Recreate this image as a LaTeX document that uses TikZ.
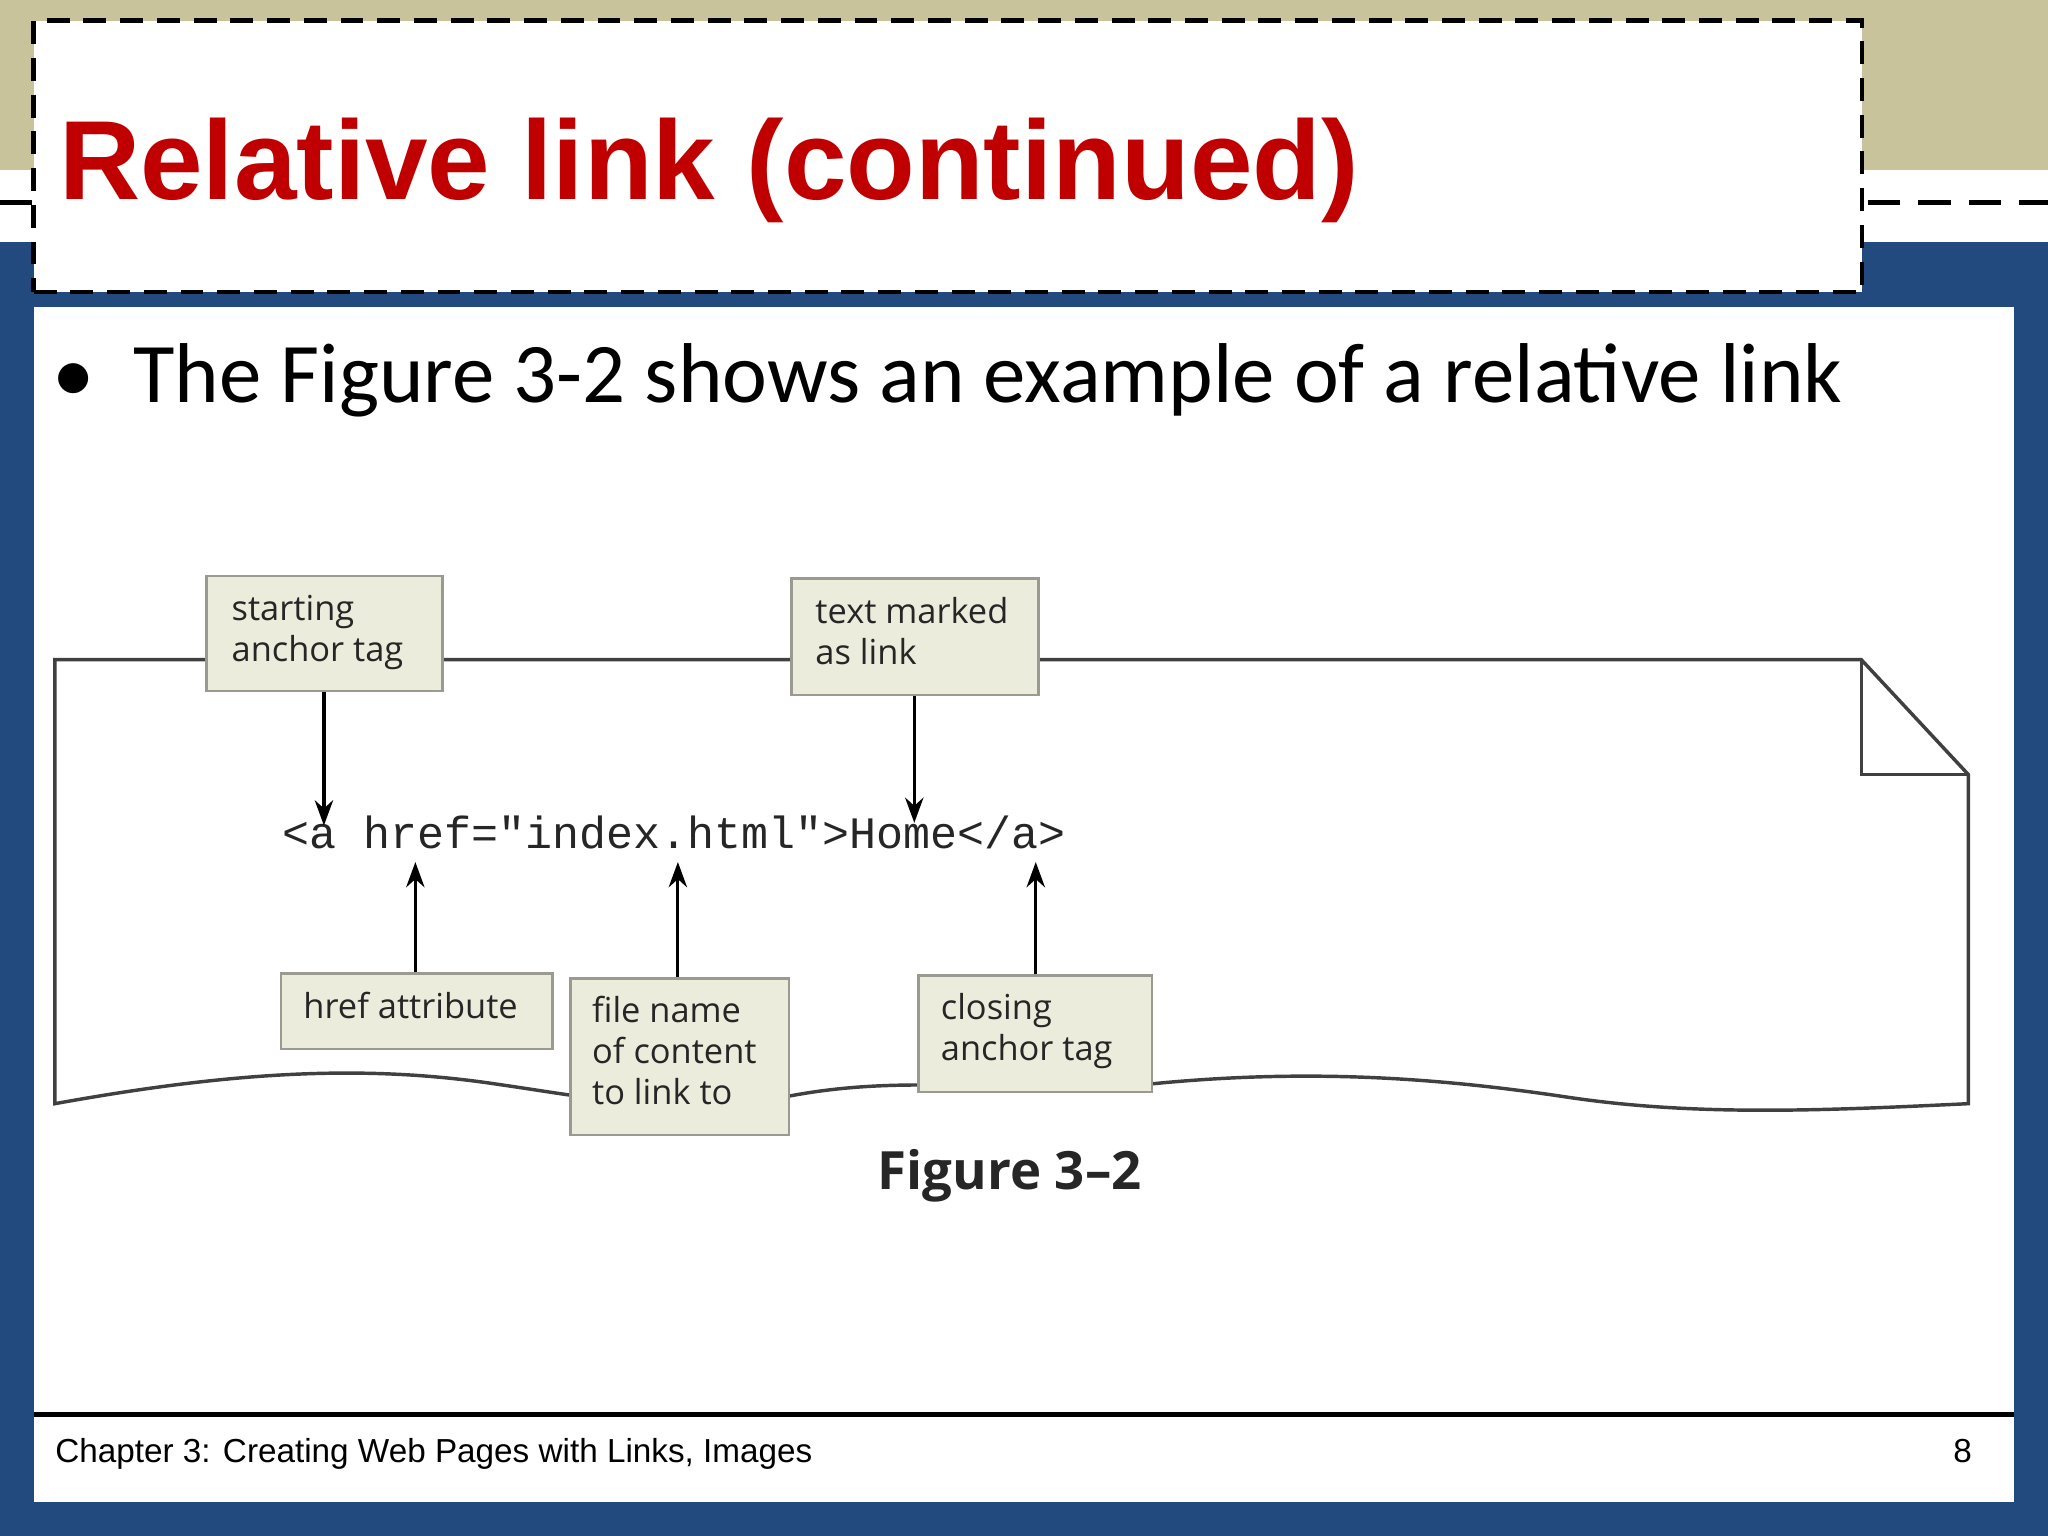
\documentclass[tikz,border=0pt]{standalone}
\usepackage{fontspec}
\setmainfont{Liberation Sans}
\newfontfamily\bodyf{Carlito}
\newfontfamily\boxf{Open Sans}
\newfontfamily\codef{Liberation Mono}
\definecolor{beige}{HTML}{C9C39B}
\definecolor{navy}{HTML}{224A7E}
\definecolor{titlered}{HTML}{C00000}
\definecolor{boxfill}{HTML}{ECECDC}
\definecolor{boxline}{HTML}{9A9A90}
\tikzset{lbl/.style={draw=boxline,fill=boxfill,line width=1.2pt,anchor=north west,inner sep=0pt},
 lbltext/.style={anchor=north west,align=left,inner sep=0pt,font=\boxf\fontsize{15}{18}\selectfont,text=black!85},
 arr/.style={-{Stealth[length=11pt,width=8pt]},line width=1.4pt}}
\usetikzlibrary{arrows.meta}
\begin{document}
\begin{tikzpicture}[x=0.02cm,y=-0.02cm]
\useasboundingbox (0,0) rectangle (1568,1176);
\fill[navy] (0,0) rectangle (1568,1176);
\fill[beige] (0,0) rectangle (1568,130);
\fill[white] (0,130) rectangle (1568,185);
\fill[white] (26,235) rectangle (1542,1150);
\draw[line width=2.5pt] (26,1083) -- (1542,1083);
\draw[line width=2pt,dash pattern=on 14pt off 8pt] (0,155) -- (1568,155);
\node[draw,line width=2pt,dash pattern=on 10pt off 6pt,fill=white,minimum width=28cm,minimum height=4.16cm,anchor=north west,inner sep=0pt] (tb) at (24,14) {};
\node[anchor=base west,inner sep=0pt,text=titlered,font=\bfseries\fontsize{49}{54}\selectfont] (title) at (45,153) {Relative link (continued)};
\node[anchor=base west,inner sep=0pt,font=\bodyf\fontsize{37}{42}\selectfont] (bullet) at (40,308) {\textbullet\hspace{0.45em}The Figure 3-2 shows an example of a relative link};
% paper
\draw[line width=1.5pt,black!75,fill=white] (42,505) -- (1425,505) -- (1507,593) -- (1507,845)
  .. controls (1400,850) and (1300,855) .. (1200,840)
  .. controls (1100,825) and (1000,818) .. (880,830)
  .. controls (780,840) and (700,820) .. (600,840)
  .. controls (520,855) and (450,840) .. (380,830)
  .. controls (280,815) and (180,820) .. (42,845) -- cycle;
\draw[line width=1.5pt,black!75] (1425,505) -- (1425,593) -- (1507,593);
\node[anchor=base west,inner sep=0pt,font=\codef\fontsize{19.6}{23}\selectfont,text=black!85] (code) at (216,650) {<a href="index.html">Home</a>};
\node[lbl,minimum width=3.62cm,minimum height=1.76cm] (b1) at (157,440) {};
\node[lbltext] at (177,455) {starting\\anchor tag};
\node[lbl,minimum width=3.78cm,minimum height=1.78cm] (b2) at (605,442) {};
\node[lbltext] at (624,457) {text marked\\as link};
\node[lbl,minimum width=4.16cm,minimum height=1.16cm] (b3) at (214,744) {};
\node[lbltext] at (232,759) {href attribute};
\node[lbl,minimum width=3.34cm,minimum height=2.4cm] (b4) at (436,748) {};
\node[lbltext] at (453,762) {file name\\of content\\to link to};
\node[lbl,minimum width=3.58cm,minimum height=1.78cm] (b5) at (702,746) {};
\node[lbltext] at (720,760) {closing\\anchor tag};
\coordinate (t1) at (248,632); \coordinate (t2) at (700,630);
\coordinate (t3) at (318,660); \coordinate (t4) at (519,660); \coordinate (t5) at (793,660);
\draw[arr] (b1.south -| t1) -- (t1);
\draw[arr] (b2.south -| t2) -- (t2);
\draw[arr] (b3.north -| t3) -- (t3);
\draw[arr] (b4.north -| t4) -- (t4);
\draw[arr] (b5.north -| t5) -- (t5);
\node[font=\boxf\bfseries\fontsize{23}{27}\selectfont,text=black!85] (fig) at (773,900) {Figure 3–2};
\node[anchor=base west,inner sep=0pt,font=\fontsize{14.5}{18}\selectfont] (foot) at (42,1120) {Chapter 3: Creating Web Pages with Links, Images};
\node[anchor=base east,inner sep=0pt,font=\fontsize{14.5}{18}\selectfont] (pg) at (1510,1120) {8};
\end{tikzpicture}
\end{document}
